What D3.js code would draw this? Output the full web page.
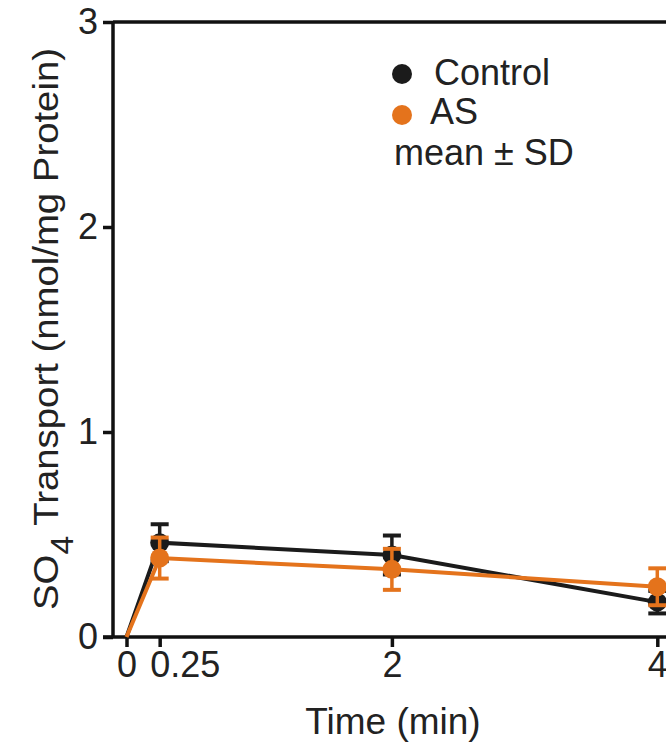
<!DOCTYPE html>
<html>
<head>
<meta charset="utf-8">
<script src="https://cdn.jsdelivr.net/npm/d3@7/dist/d3.min.js"></script>
<style>
  html, body { margin: 0; padding: 0; background: #fff; }
  svg { display: block; font-family: "Liberation Sans", Arial, sans-serif; }
</style>
</head>
<body>
<svg id="chart" width="666" height="744"></svg>
<script>
// Sulfate uptake time course (mean ± SD)
const times = [0, 0.25, 2, 4];
const controlMean = [0, 0.46, 0.40, 0.17];
const controlSD   = [0, 0.09, 0.095, 0.055];
const asMean      = [0, 0.385, 0.33, 0.245];
const asSD        = [0, 0.10, 0.10, 0.09];
const xTicks = [0, 0.25, 2, 4];
const yTicks = [0, 1, 2, 3];
const seriesNames = ["Control", "AS"];
const seriesColors = ["#1b1b1b", "#e4731c"];

const svg = d3.select("#chart");
const W = 666;
const FONT = 36;
const INK = "#222";

const x = d3.scaleLinear().domain([0, 4]).range([126.5, 657.3]);
const y = d3.scaleLinear().domain([0, 3]).range([637, 22]);
const x0 = 113; // y-axis position

const series = [
  { name: seriesNames[0], color: seriesColors[0], mean: controlMean, sd: controlSD },
  { name: seriesNames[1], color: seriesColors[1], mean: asMean, sd: asSD }
];

// frame: top border
svg.append("line")
  .attr("x1", x0).attr("x2", W + 10)
  .attr("y1", y(3)).attr("y2", y(3))
  .attr("stroke", "#111").attr("stroke-width", 3.5);

// y axis
const yAxis = d3.axisLeft(y).tickValues(yTicks).tickFormat(d3.format("d"))
  .tickSize(10).tickPadding(5);
const gy = svg.append("g").attr("transform", `translate(${x0},0)`).call(yAxis);
gy.select(".domain").attr("stroke", "#111").attr("stroke-width", 3.5)
  .attr("d", `M0,${y(0)}V${y(3)}`);
gy.selectAll(".tick line").attr("stroke", "#111").attr("stroke-width", 3.5);
gy.selectAll(".tick text").attr("font-size", FONT).attr("fill", INK)
  .attr("font-family", "Liberation Sans, Arial, sans-serif");

// x axis
const xAxis = d3.axisBottom(x).tickValues(xTicks)
  .tickFormat(d => d === 0.25 ? "0.25" : d3.format("d")(d))
  .tickSize(10).tickPadding(4);
const gx = svg.append("g").attr("transform", `translate(0,${y(0)})`).call(xAxis);
gx.select(".domain").attr("stroke", "#111").attr("stroke-width", 3.5)
  .attr("d", `M${x0 - 10},0H${W + 10}`);
gx.selectAll(".tick line").attr("stroke", "#111").attr("stroke-width", 3.5);
gx.selectAll(".tick text").attr("font-size", FONT).attr("fill", INK)
  .attr("font-family", "Liberation Sans, Arial, sans-serif");
// "0.25" sits with its leading digit under the tick
gx.selectAll(".tick text").filter(d => d === 0.25)
  .attr("text-anchor", "start").attr("x", -FONT * 0.278);

// data marks
const line = d3.line().x((d, i) => x(times[i])).y(d => y(d));
series.forEach(s => {
  const g = svg.append("g");
  const pts = times.map((t, i) => ({ t, m: s.mean[i], sd: s.sd[i] })).filter(p => p.m > 0);
  // error bars
  pts.forEach(p => {
    g.append("line").attr("x1", x(p.t)).attr("x2", x(p.t))
      .attr("y1", y(p.m - p.sd)).attr("y2", y(p.m + p.sd))
      .attr("stroke", s.color).attr("stroke-width", 3.5);
    [p.m - p.sd, p.m + p.sd].forEach(v => {
      g.append("line").attr("x1", x(p.t) - 9).attr("x2", x(p.t) + 9)
        .attr("y1", y(v)).attr("y2", y(v))
        .attr("stroke", s.color).attr("stroke-width", 4);
    });
  });
  g.append("path").datum(s.mean).attr("d", line)
    .attr("fill", "none").attr("stroke", s.color).attr("stroke-width", 4);
  g.selectAll("circle").data(pts).join("circle")
    .attr("cx", p => x(p.t)).attr("cy", p => y(p.m)).attr("r", 9.5)
    .attr("fill", s.color);
});

// legend
const legend = svg.append("g");
const legendRows = [{ cy: 74, ty: 85, tx: 434 }, { cy: 115, ty: 124, tx: 430 }];
series.forEach((s, i) => {
  legend.append("circle").attr("cx", 402).attr("cy", legendRows[i].cy).attr("r", 10).attr("fill", s.color);
  legend.append("text").attr("x", legendRows[i].tx).attr("y", legendRows[i].ty)
    .attr("font-size", FONT).attr("fill", INK).text(s.name);
});
legend.append("text").attr("x", 394).attr("y", 165)
  .attr("font-size", FONT).attr("fill", INK).text("mean ± SD");

// axis titles
svg.append("text").attr("x", 393).attr("y", 734).attr("text-anchor", "middle")
  .attr("font-size", 37).attr("fill", INK).text("Time (min)");

const yl = svg.append("text")
  .attr("transform", "translate(58,329) rotate(-90)")
  .attr("text-anchor", "middle").attr("font-size", 35).attr("fill", INK)
  .attr("textLength", 562).attr("lengthAdjust", "spacingAndGlyphs");
yl.append("tspan").text("SO");
yl.append("tspan").attr("dy", 15).attr("font-size", 31).text("4");
yl.append("tspan").attr("dy", -15).text(" Transport (nmol/mg Protein)");
</script>
</body>
</html>
